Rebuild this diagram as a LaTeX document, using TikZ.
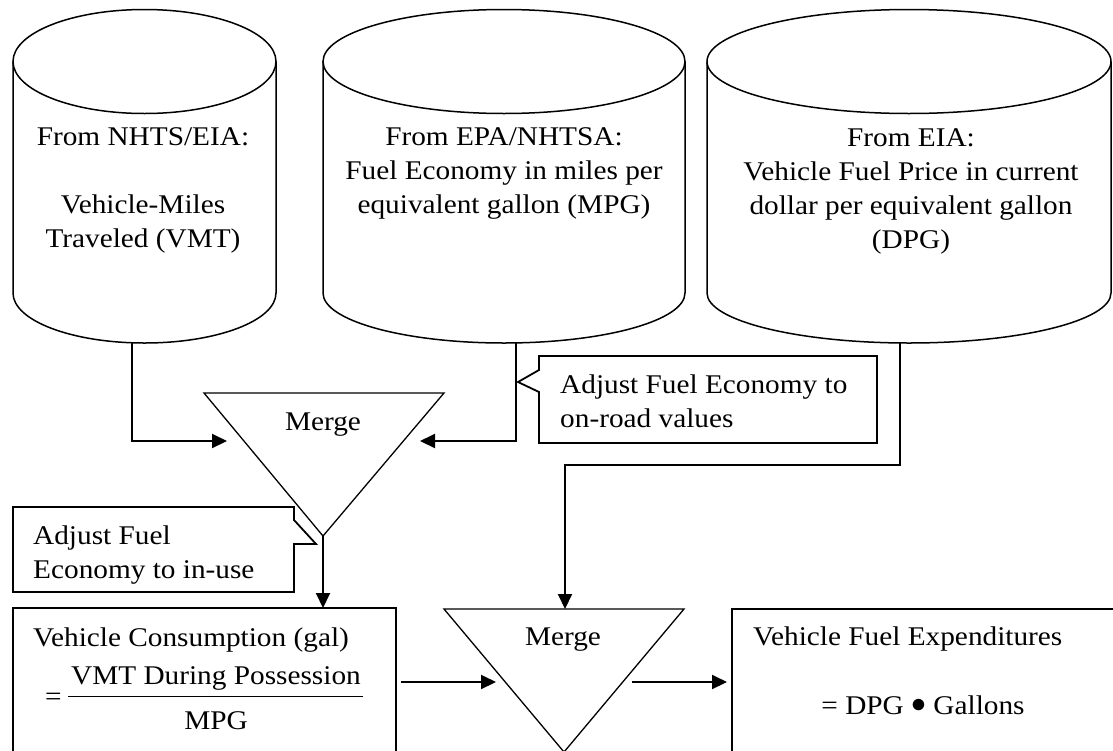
\documentclass[tikz,border=0pt]{standalone}
\usepackage{fontspec}
\setmainfont{Liberation Serif}[FakeStretch=1.085]
\usetikzlibrary{arrows.meta}

\begin{document}
\begin{tikzpicture}[x=1pt,y=-1pt,
    txt/.style={font=\fontsize{27}{34}\selectfont,inner sep=0pt},
    db/.style={line width=1.5pt},
    merge/.style={line width=1.3pt},
    box/.style={line width=1.6pt},
    flow/.style={line width=2pt,-{Triangle[length=15pt,width=14pt]}}]
\useasboundingbox (0,0) rectangle (1113,750);

% data sources
\foreach \l/\r/\c/\rx in {13/276/144.5/131.5, 323/685/504/181, 707/1111/909/202}{
    \draw[db] (\l,61.5) -- (\l,293) arc[start angle=180,end angle=0,x radius=\rx,y radius=50] -- (\r,61.5);
    \draw[db] (\c,61.5) ellipse [x radius=\rx,y radius=52];
}
\node[txt,align=center] (vmt) at (143,190) {From NHTS/EIA:\\[34pt]Vehicle-Miles\\Traveled (VMT)};
\node[txt,align=center] (mpg) at (504,173.5) {From EPA/NHTSA:\\Fuel Economy in miles per\\equivalent gallon (MPG)};
\node[txt,align=center] (dpg) at (911,191) {From EIA:\\Vehicle Fuel Price in current\\dollar per equivalent gallon\\(DPG)};
\coordinate (vmt out) at (132,343);
\coordinate (mpg out) at (516,343);
\coordinate (dpg out) at (900,343);

% merges
\draw[merge] (204,393) -- (444,393) -- (323,536) -- cycle;
\node[txt] (merge1) at (323,424.5) {Merge};
\coordinate (merge1 l) at (227,441);
\coordinate (merge1 r) at (420,441);
\coordinate (merge1 out) at (323,536);

\draw[merge] (444,609) -- (684,609) -- (564,752) -- cycle;
\node[txt] (merge2) at (563,640) {Merge};
\coordinate (merge2 top) at (565,609);
\coordinate (merge2 l) at (496,682);
\coordinate (merge2 r) at (727,682);

% callouts
\draw[box,line width=1.8pt] (539,356) -- (877,356) -- (877,443) -- (539,443) -- (539,392) -- (518,382) -- (539,370) -- cycle;
\node[txt,align=left,anchor=west] (adjroad) at (560,401) {Adjust Fuel Economy to\\on-road values};
\draw[box,line width=1.8pt] (13,507) -- (294,507) -- (294,520) -- (316,544) -- (294,544) -- (294,592) -- (13,592) -- cycle;
\node[txt,align=left,anchor=west] (adjuse) at (33,555.5) {Adjust Fuel\\Economy to in-use};

% results
\draw[box] (13,760) -- (13,608) -- (396,608) -- (396,760);
\node[txt,anchor=west] (cons) at (33,640.5) {Vehicle Consumption (gal)};
\node[txt] (cons eq) at (53.5,699) {=};
\node[txt] (cons num) at (216,678) {VMT During Possession};
\node[txt] (cons den) at (216,720.5) {MPG};
\draw[line width=1pt] (68,696) -- (363,696);
\coordinate (cons out) at (401,682);

\draw[box] (732,760) -- (732,609) -- (1114,609);
\node[txt,anchor=west] (exp) at (753,639) {Vehicle Fuel Expenditures};
\node[txt] (exp eq) at (923,705) {= DPG \raisebox{1.5pt}{\scalebox{1.2}{$\bullet$}} Gallons};
\coordinate (exp in) at (632,682);

% connectors
\draw[flow] (vmt out) |- (merge1 l);
\draw[flow] (mpg out) |- (merge1 r);
\draw[flow] (dpg out) -- (900,465) -| (merge2 top);
\draw[flow] (merge1 out) -- (323,608);
\draw[flow] (cons out) -- (merge2 l);
\draw[flow] (exp in) -- (merge2 r);
\end{tikzpicture}
\end{document}
